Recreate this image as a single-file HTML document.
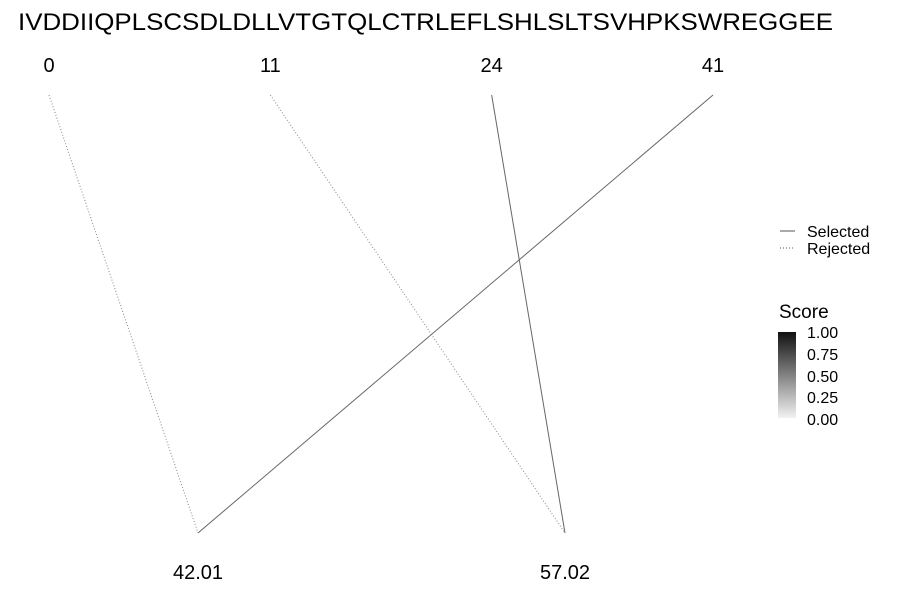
<!DOCTYPE html>
<html><head><meta charset="utf-8"><style>
html,body{margin:0;padding:0;background:#fff;}
svg{display:block;font-family:"Liberation Sans",Arial,sans-serif;}
</style></head><body>
<svg id="chart" width="900" height="600" viewBox="0 0 900 600">
<defs><linearGradient id="sg" x1="0" y1="1" x2="0" y2="0">
<stop offset="0" stop-color="#f2f2f2"/><stop offset="1" stop-color="#111"/></linearGradient></defs>
<text x="18" y="30" font-size="24" textLength="815" lengthAdjust="spacingAndGlyphs">IVDDIIQPLSCSDLDLLVTGTQLCTRLEFLSHLSLTSVHPKSWREGGEE</text>
<g id="edges"></g><g id="labels"></g>
<g>
<line x1="780" y1="231" x2="795" y2="231" stroke="#555" stroke-width="1"/>
<text x="807" y="237" font-size="16">Selected</text>
<line x1="780" y1="248" x2="795" y2="248" stroke="#555" stroke-width="1" stroke-dasharray="1,2"/>
<text x="807" y="254" font-size="16">Rejected</text>
</g>
<g>
<text x="779" y="318" font-size="19">Score</text>
<rect x="778" y="332" width="18" height="86" fill="url(#sg)"/>
<g font-size="16">
<text x="807" y="338">1.00</text><text x="807" y="360">0.75</text><text x="807" y="382">0.50</text><text x="807" y="403">0.25</text><text x="807" y="425">0.00</text>
</g>
</g>
</svg>
<script>
const topLabels = ["0","11","24","41"];
const bottomLabels = ["42.01","57.02"];
const edgeFrom = [0,1,2,3];
const edgeTo = [0,1,1,0];
const edgeSelected = [false,false,true,true];

const NS="http://www.w3.org/2000/svg";
const topY=95, botY=533;
function xTop(i){return 49 + i*(713-49)/(topLabels.length-1);}
function xBot(i){return 198 + i*(565-198)/Math.max(1,bottomLabels.length-1);}
const eg=document.getElementById('edges'), lg=document.getElementById('labels');
for(let k=0;k<edgeFrom.length;k++){
  const l=document.createElementNS(NS,'line');
  
  
  l.setAttribute('x1',xTop(edgeFrom[k]));l.setAttribute('y1',topY);
  l.setAttribute('x2',xBot(edgeTo[k]));l.setAttribute('y2',botY);
  l.setAttribute('stroke',edgeSelected[k]?'#666':'#888');
  l.setAttribute('stroke-width','1');
  if(!edgeSelected[k]) l.setAttribute('stroke-dasharray','1,2');
  eg.appendChild(l);
}
topLabels.forEach((t,i)=>{
  const e=document.createElementNS(NS,'text');
  
  
  e.setAttribute('x',xTop(i));e.setAttribute('y',72);
  e.setAttribute('font-size','20');e.setAttribute('text-anchor','middle');
  e.textContent=t;lg.appendChild(e);
});
bottomLabels.forEach((t,i)=>{
  const e=document.createElementNS(NS,'text');
  
  
  e.setAttribute('x',xBot(i));e.setAttribute('y',579);
  e.setAttribute('font-size','20');e.setAttribute('text-anchor','middle');
  e.textContent=t;lg.appendChild(e);
});
</script>
</body></html>
